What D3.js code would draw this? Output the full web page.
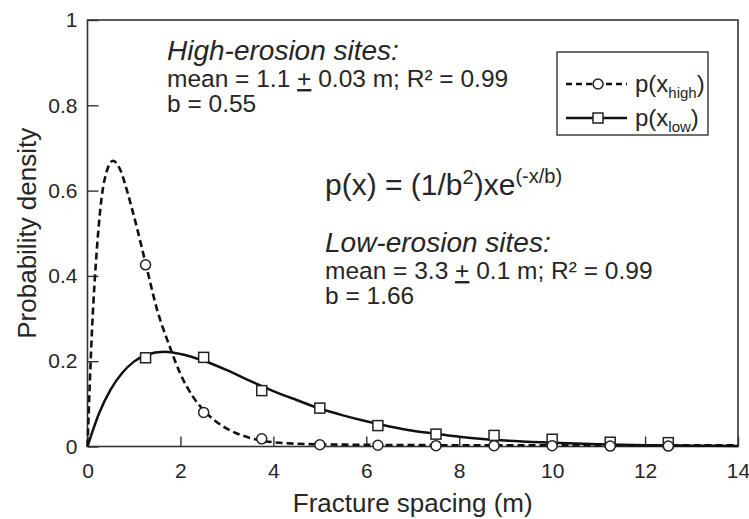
<!DOCTYPE html>
<html>
<head>
<meta charset="utf-8">
<script src="https://cdn.jsdelivr.net/npm/d3@7"></script>
<style>
  body { margin: 0; background: #fff; }
  svg text { font-family: "Liberation Sans", Arial, Helvetica, sans-serif; fill: #262626; }
</style>
</head>
<body>
<div id="chart"></div>
<script>
// values
const xTicks = [0, 2, 4, 6, 8, 10, 12, 14];
const yTicks = [0, 0.2, 0.4, 0.6, 0.8, 1];

// fitted curve, high-erosion sites (dashed)
const highCurveX = [0, 0.05, 0.1, 0.15, 0.2, 0.3, 0.4, 0.55, 0.7, 0.85, 1.0, 1.25, 1.5, 1.75, 2.0, 2.25, 2.5, 2.75, 3.0, 3.5, 4.0, 5, 6, 8, 10, 12, 14];
const highCurveY = [0, 0.15, 0.28, 0.38, 0.46, 0.58, 0.64, 0.67, 0.65, 0.60, 0.54, 0.43, 0.32, 0.24, 0.17, 0.12, 0.085, 0.06, 0.042, 0.02, 0.01, 0.005, 0.004, 0.003, 0.003, 0.003, 0.003];

// fitted curve, low-erosion sites (solid)
const lowCurveX = [0, 0.25, 0.5, 0.75, 1.0, 1.25, 1.66, 2.0, 2.5, 3.0, 3.5, 4.0, 4.5, 5.0, 5.5, 6.0, 6.5, 7.0, 7.5, 8.0, 9.0, 10, 11, 12, 13, 14];
const lowCurveY = [0, 0.078, 0.134, 0.173, 0.199, 0.214, 0.222, 0.217, 0.201, 0.179, 0.154, 0.130, 0.109, 0.089, 0.073, 0.059, 0.047, 0.037, 0.030, 0.023, 0.014, 0.009, 0.005, 0.003, 0.002, 0.001];

// observed points
const markerX = [1.25, 2.5, 3.75, 5, 6.25, 7.5, 8.75, 10, 11.25, 12.5];
const highPoints = [0.426, 0.08, 0.018, 0.004, 0.003, 0.002, 0.002, 0.002, 0.001, 0.001];
const lowPoints = [0.208, 0.209, 0.131, 0.09, 0.049, 0.029, 0.026, 0.017, 0.01, 0.009];

const W = 749, H = 519;
const plot = { left: 87.5, right: 738, top: 20, bottom: 446.5 };

const svg = d3.select("#chart").append("svg")
    .attr("width", W)
    .attr("height", H);

const x = d3.scaleLinear().domain([0, 14]).range([plot.left, plot.right]);
const y = d3.scaleLinear().domain([0, 1]).range([plot.bottom, plot.top]);

// axes, ticks point inward
const yAxis = d3.axisLeft(y).tickValues(yTicks).tickSize(-11).tickPadding(10)
    .tickFormat(d => d3.format("~g")(d));
const xAxis = d3.axisBottom(x).tickValues(xTicks).tickSize(-10).tickPadding(17)
    .tickFormat(d3.format("d"));

const gy = svg.append("g").attr("transform", `translate(${plot.left},0)`).call(yAxis);
const gx = svg.append("g").attr("transform", `translate(0,${plot.bottom})`).call(xAxis);

[gy, gx].forEach(g => {
    g.select(".domain").remove();
    g.selectAll(".tick line").attr("stroke", "#333").attr("stroke-width", 1.4);
    g.selectAll(".tick text")
        .style("font-size", "21px")
        .attr("fill", "#2a2a2a");
});

// frame
svg.append("rect")
    .attr("x", plot.left).attr("y", plot.top)
    .attr("width", plot.right - plot.left)
    .attr("height", plot.bottom - plot.top)
    .attr("fill", "none")
    .attr("stroke", "#333")
    .attr("stroke-width", 1.6);

// axis titles
svg.append("text")
    .attr("x", (plot.left + plot.right) / 2)
    .attr("y", 512)
    .attr("text-anchor", "middle")
    .style("font-size", "26px")
    .text("Fracture spacing (m)");

svg.append("text")
    .attr("transform", `translate(36,${(plot.top + plot.bottom) / 2}) rotate(-90)`)
    .attr("text-anchor", "middle")
    .style("font-size", "26px")
    .text("Probability density");

// curves
const line = d3.line()
    .x(d => x(d[0]))
    .y(d => y(d[1]))
    .curve(d3.curveMonotoneX);

const highCurve = highCurveX.map((v, i) => [v, highCurveY[i]]);
const lowCurve = lowCurveX.map((v, i) => [v, lowCurveY[i]]);

svg.append("path")
    .datum(lowCurve)
    .attr("d", line)
    .attr("fill", "none")
    .attr("stroke", "#111")
    .attr("stroke-width", 2.5);

svg.append("path")
    .datum(highCurve)
    .attr("d", line)
    .attr("fill", "none")
    .attr("stroke", "#111")
    .attr("stroke-width", 2.6)
    .attr("stroke-dasharray", "7,4");

// markers
svg.append("g").selectAll("rect")
    .data(markerX.map((v, i) => [v, lowPoints[i]]))
    .join("rect")
    .attr("x", d => x(d[0]) - 5)
    .attr("y", d => y(d[1]) - 5)
    .attr("width", 10).attr("height", 10)
    .attr("fill", "#fff")
    .attr("stroke", "#222")
    .attr("stroke-width", 1.5);

svg.append("g").selectAll("circle")
    .data(markerX.map((v, i) => [v, highPoints[i]]))
    .join("circle")
    .attr("cx", d => x(d[0]))
    .attr("cy", d => y(d[1]))
    .attr("r", 5)
    .attr("fill", "#fff")
    .attr("stroke", "#222")
    .attr("stroke-width", 1.5);

// annotations
function statBlock(x0, y0, title, mean, err, b) {
    svg.append("text")
        .attr("x", x0).attr("y", y0)
        .style("font-size", "28px")
        .style("font-style", "italic")
        .text(title);
    const t = svg.append("text")
        .attr("x", x0).attr("y", y0 + 27)
        .style("font-size", "24.5px");
    t.append("tspan").text(`mean = ${mean} `);
    t.append("tspan").style("text-decoration", "underline").text("+");
    t.append("tspan").text(` ${err} m; R² = 0.99`);
    svg.append("text")
        .attr("x", x0).attr("y", y0 + 52)
        .style("font-size", "24.5px")
        .text(`b = ${b}`);
}

statBlock(167, 60, "High-erosion sites:", "1.1", "0.03", "0.55");
statBlock(325, 252, "Low-erosion sites:", "3.3", "0.1", "1.66");

const f = svg.append("text")
    .attr("x", 325).attr("y", 195)
    .style("font-size", "30px");
f.append("tspan").text("p(x) = (1/b");
f.append("tspan").attr("dy", -11).style("font-size", "20px").text("2");
f.append("tspan").attr("dy", 11).text(")xe");
f.append("tspan").attr("dy", -12).style("font-size", "20px").text("(-x/b)");

// legend
const lg = svg.append("g");
lg.append("rect")
    .attr("x", 557).attr("y", 52)
    .attr("width", 151).attr("height", 83)
    .attr("fill", "#fff")
    .attr("stroke", "#333")
    .attr("stroke-width", 1.4);

const legendItems = [
    { name: "high", dash: "6,4", shape: "circle", y: 84 },
    { name: "low", dash: null, shape: "square", y: 118 }
];

legendItems.forEach(it => {
    lg.append("line")
        .attr("x1", 566).attr("x2", 627)
        .attr("y1", it.y).attr("y2", it.y)
        .attr("stroke", "#111")
        .attr("stroke-width", 2.3)
        .attr("stroke-dasharray", it.dash);
    if (it.shape === "circle") {
        lg.append("circle").attr("cx", 598).attr("cy", it.y).attr("r", 5)
            .attr("fill", "#fff").attr("stroke", "#222").attr("stroke-width", 1.5);
    } else {
        lg.append("rect").attr("x", 593).attr("y", it.y - 5).attr("width", 10).attr("height", 10)
            .attr("fill", "#fff").attr("stroke", "#222").attr("stroke-width", 1.5);
    }
    const t = lg.append("text").attr("x", 635).attr("y", it.y + 8).style("font-size", "24px");
    t.append("tspan").text("p(x");
    t.append("tspan").attr("dy", 6).style("font-size", "15px").text(it.name);
    t.append("tspan").attr("dy", -6).text(")");
});
</script>
</body>
</html>
